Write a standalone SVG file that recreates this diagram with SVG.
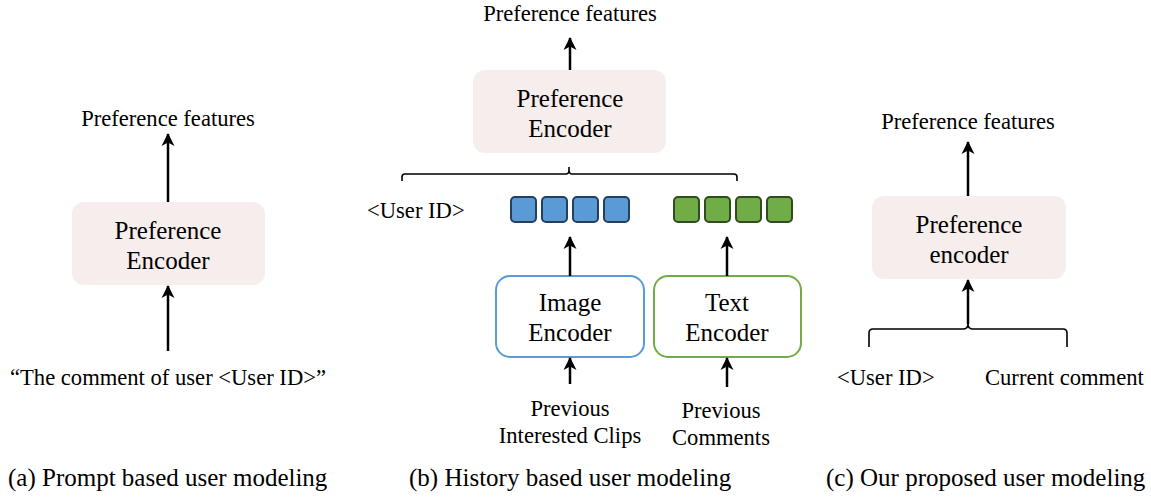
<svg xmlns="http://www.w3.org/2000/svg" width="1151" height="497" viewBox="0 0 1151 497">
<defs>
<marker id="ah" markerWidth="13" markerHeight="15" refX="12" refY="6.5" orient="auto" markerUnits="userSpaceOnUse" viewBox="0 0 13 13">
<path d="M0,0 L13,6.5 L0,13 L3.5,6.5 Z" fill="#000"/>
</marker>
<style>
text{font-family:"Liberation Serif","Times New Roman",serif;fill:#000;}
.lbl{font-size:22.6px;}
.box{font-size:25px;text-anchor:middle;}
.cap{font-size:25px;}
.mid{text-anchor:middle;}
.pref{fill:#f6eeec;stroke:none;}
.arr{stroke:#000;stroke-width:2.5;fill:none;marker-end:url(#ah);}
.br{stroke:#000;stroke-width:1.6;fill:none;}
.bsq{fill:#5b9bd5;stroke:#243f60;stroke-width:2;}
.gsq{fill:#70ad47;stroke:#2f4d1f;stroke-width:2;}
</style>
</defs>
<rect width="1151" height="497" fill="#fff"/>

<!-- Panel a -->
<g id="a-features"><text class="lbl mid" x="168" y="126">Preference features</text></g>
<g id="a-encoder">
<rect class="pref" x="72" y="202" width="193" height="83" rx="12"/>
<text class="box" x="168" y="239">Preference</text>
<text class="box" x="168" y="269">Encoder</text>
</g>
<g id="a-prompt"><text class="lbl mid" x="168" y="385">“The comment of user &lt;User ID&gt;”</text></g>
<g id="a-caption"><text class="cap" x="8" y="486">(a) Prompt based user modeling</text></g>

<!-- Panel b -->
<g id="b-features"><text class="lbl mid" x="570" y="21">Preference features</text></g>
<g id="b-encoder">
<rect class="pref" x="473" y="70" width="193" height="83" rx="12"/>
<text class="box" x="570" y="107">Preference</text>
<text class="box" x="570" y="137">Encoder</text>
</g>
<g id="b-userid"><text class="lbl" x="367" y="218">&lt;User ID&gt;</text></g>
<g id="b-img-tokens">
<rect class="bsq" x="511" y="197" width="25" height="25" rx="4"/>
<rect class="bsq" x="542" y="197" width="25" height="25" rx="4"/>
<rect class="bsq" x="573" y="197" width="25" height="25" rx="4"/>
<rect class="bsq" x="604" y="197" width="25" height="25" rx="4"/>
</g>
<g id="b-txt-tokens">
<rect class="gsq" x="674" y="197" width="25" height="25" rx="4"/>
<rect class="gsq" x="705" y="197" width="25" height="25" rx="4"/>
<rect class="gsq" x="736" y="197" width="25" height="25" rx="4"/>
<rect class="gsq" x="767" y="197" width="25" height="25" rx="4"/>
</g>
<g id="b-image-encoder">
<rect x="496" y="276" width="148" height="81" rx="14" fill="#fff" stroke="#5b9bd5" stroke-width="2"/>
<text class="box" x="570" y="311">Image</text>
<text class="box" x="570" y="341">Encoder</text>
</g>
<g id="b-text-encoder">
<rect x="654" y="276" width="147" height="81" rx="14" fill="#fff" stroke="#70ad47" stroke-width="2"/>
<text class="box" x="727" y="311">Text</text>
<text class="box" x="727" y="341">Encoder</text>
</g>
<g id="b-clips">
<text class="lbl mid" x="570" y="416">Previous</text>
<text class="lbl mid" x="570" y="443">Interested Clips</text>
</g>
<g id="b-comments">
<text class="lbl mid" x="721" y="418">Previous</text>
<text class="lbl mid" x="721" y="445">Comments</text>
</g>
<g id="b-caption"><text class="cap" x="409" y="486">(b) History based user modeling</text></g>

<!-- Panel c -->
<g id="c-features"><text class="lbl mid" x="968" y="129">Preference features</text></g>
<g id="c-encoder">
<rect class="pref" x="872" y="196" width="194" height="83" rx="12"/>
<text class="box" x="969" y="233">Preference</text>
<text class="box" x="969" y="263">encoder</text>
</g>
<g id="c-userid"><text class="lbl" x="837" y="385">&lt;User ID&gt;</text></g>
<g id="c-comment"><text class="lbl" x="985" y="385">Current comment</text></g>
<g id="c-caption"><text class="cap" x="826" y="486">(c) Our proposed user modeling</text></g>

<!-- Connectors -->
<g id="connectors">
<line class="arr" x1="168" y1="202" x2="168" y2="134"/>
<line class="arr" x1="168" y1="351" x2="168" y2="286"/>
<line class="arr" x1="570" y1="70" x2="570" y2="38"/>
<path class="br" d="M402,181 V177 Q402,174 405,174 H566 Q569,174 569,170 V167 V170 Q569,174 572,174 H734 Q737,174 737,177 V181"/>
<line class="arr" x1="570" y1="276" x2="570" y2="237"/>
<line class="arr" x1="727" y1="276" x2="727" y2="237"/>
<line class="arr" x1="570" y1="384" x2="570" y2="358"/>
<line class="arr" x1="727" y1="387" x2="727" y2="358"/>
<line class="arr" x1="968" y1="196" x2="968" y2="142"/>
<path class="br" d="M869,347 V333 Q869,329 873,329 H963 Q968,329 968,324 V322 V324 Q968,329 973,329 H1063 Q1067,329 1067,333 V347"/>
<line class="arr" x1="968" y1="324" x2="968" y2="280"/>
</g>
</svg>
